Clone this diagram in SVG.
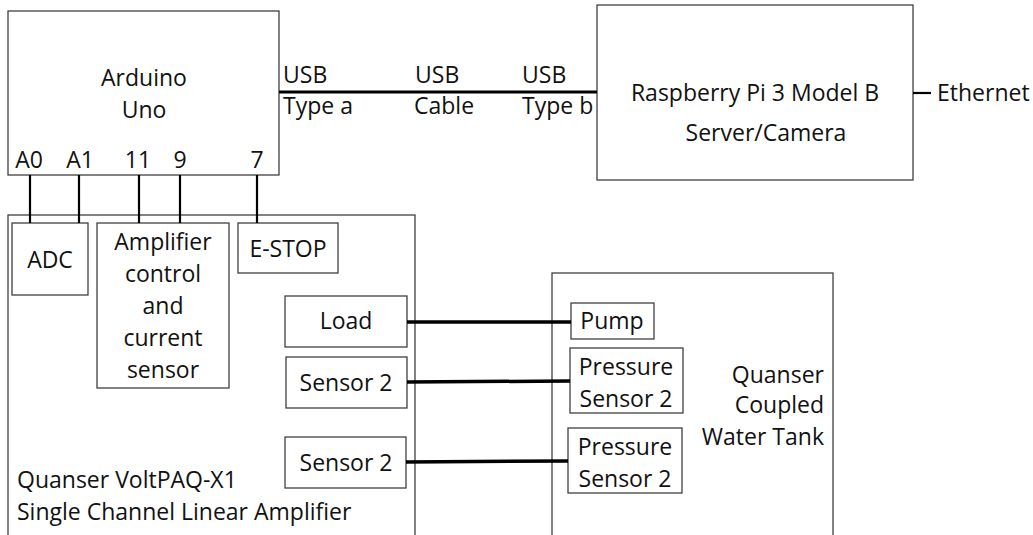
<svg xmlns="http://www.w3.org/2000/svg" width="1033" height="535" viewBox="0 0 1033 535">
<style>
.box{fill:#fff;stroke:#404040;stroke-width:1.3}
.t{font-family:"Open Sans","Noto Sans",sans-serif;font-size:23px;fill:#111}
.c{text-anchor:middle}
.r{text-anchor:end}
.pin{stroke:#000;stroke-width:2.2}
.wire{stroke:#000;stroke-width:3.5}
</style>
<rect width="1033" height="535" fill="#fff"/>
<g id="arduino">
<rect class="box" x="8" y="11" width="271" height="164"/>
<text class="t c" x="144" y="86">Arduino</text>
<text class="t c" x="144" y="118">Uno</text>
<text class="t c" x="29" y="168">A0</text>
<text class="t c" x="80" y="168">A1</text>
<text class="t c" x="138" y="168">11</text>
<text class="t c" x="180" y="168">9</text>
<text class="t c" x="257" y="168">7</text>
</g>
<g id="raspberry">
<rect class="box" x="597" y="5" width="316" height="175"/>
<text class="t c" x="755" y="101">Raspberry Pi 3 Model B</text>
<text class="t c" x="766" y="141">Server/Camera</text>
</g>
<g id="ethernet">
<text class="t" x="937" y="101">Ethernet</text>
</g>
<g id="voltpaq">
<rect class="box" x="8" y="215" width="407" height="340"/>
<text class="t" x="17" y="488">Quanser VoltPAQ-X1</text>
<text class="t" x="17" y="520">Single Channel Linear Amplifier</text>
</g>
<g id="adc">
<rect class="box" x="12" y="223" width="76" height="72"/>
<text class="t c" x="50" y="268">ADC</text>
</g>
<g id="amplifier">
<rect class="box" x="97" y="223" width="132" height="165"/>
<text class="t c" x="163" y="250">Amplifier</text>
<text class="t c" x="163" y="282">control</text>
<text class="t c" x="163" y="314">and</text>
<text class="t c" x="163" y="346">current</text>
<text class="t c" x="163" y="378">sensor</text>
</g>
<g id="estop">
<rect class="box" x="238" y="223" width="100" height="50"/>
<text class="t c" x="288" y="257">E-STOP</text>
</g>
<g id="load">
<rect class="box" x="285" y="296" width="122" height="51"/>
<text class="t c" x="346" y="329">Load</text>
</g>
<g id="sensor2a">
<rect class="box" x="286" y="357" width="121" height="51"/>
<text class="t c" x="346" y="391">Sensor 2</text>
</g>
<g id="sensor2b">
<rect class="box" x="285" y="437" width="121" height="51"/>
<text class="t c" x="346" y="471">Sensor 2</text>
</g>
<g id="watertank">
<rect class="box" x="552" y="273" width="281" height="290"/>
<text class="t r" x="824" y="383">Quanser</text>
<text class="t r" x="824" y="413">Coupled</text>
<text class="t r" x="824" y="445">Water Tank</text>
</g>
<g id="pump">
<rect class="box" x="571" y="303" width="83" height="36"/>
<text class="t c" x="612" y="329">Pump</text>
</g>
<g id="pressure1">
<rect class="box" x="570" y="348" width="113" height="65"/>
<text class="t c" x="626" y="375">Pressure</text>
<text class="t c" x="626" y="407">Sensor 2</text>
</g>
<g id="pressure2">
<rect class="box" x="568" y="428" width="114" height="65"/>
<text class="t c" x="625" y="455">Pressure</text>
<text class="t c" x="625" y="487">Sensor 2</text>
</g>
<g id="connectors">
<line class="pin" x1="30" y1="175" x2="30" y2="223"/>
<line class="pin" x1="79" y1="175" x2="79" y2="223"/>
<line class="pin" x1="139" y1="175" x2="139" y2="223"/>
<line class="pin" x1="180" y1="175" x2="180" y2="223"/>
<line class="pin" x1="257" y1="175" x2="257" y2="223"/>
<line class="pin" x1="279" y1="92" x2="597" y2="92" style="stroke-width:2.8"/>
<line class="pin" x1="913" y1="93" x2="931" y2="93"/>
<line class="wire" x1="407" y1="322" x2="571" y2="322"/>
<line class="wire" x1="407" y1="382" x2="570" y2="381"/>
<line class="wire" x1="406" y1="462" x2="568" y2="461"/>
<text class="t" x="283" y="83">USB</text>
<text class="t" x="283" y="114">Type a</text>
<text class="t" x="415" y="83">USB</text>
<text class="t" x="414" y="114">Cable</text>
<text class="t" x="522" y="83">USB</text>
<text class="t" x="522" y="114">Type b</text>
</g>
</svg>
